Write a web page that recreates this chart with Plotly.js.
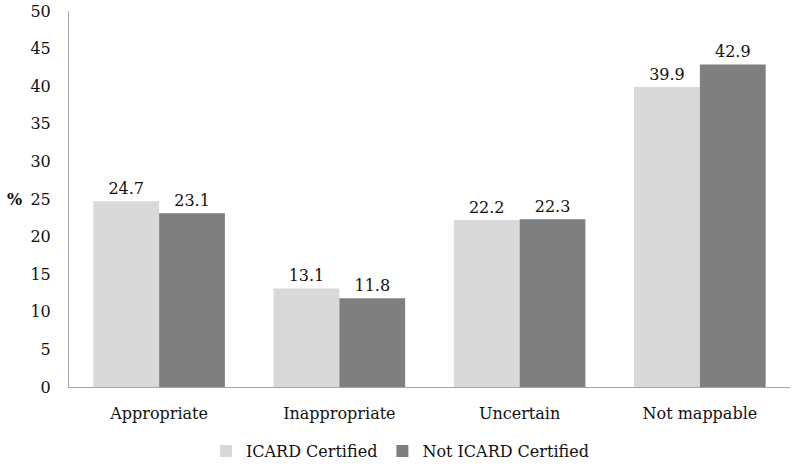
<!DOCTYPE html>
<html>
<head>
<meta charset="utf-8">
<script src="https://cdn.plot.ly/plotly-3.0.1.min.js"></script>
<style>
  html, body { margin: 0; padding: 0; background: #ffffff; }
  #chart { width: 800px; height: 466px; }
</style>
</head>
<body>
<div id="chart"></div>
<script>

/* ==========================================
   DATA
========================================== */

const categories = ["Appropriate", "Inappropriate", "Uncertain", "Not mappable"];

const certified = [24.7, 13.1, 22.2, 39.9];

const notCertified = [23.1, 11.8, 22.3, 42.9];

const seriesNames = ["ICARD Certified", "Not ICARD Certified"];

const yTicks = [0, 5, 10, 15, 20, 25, 30, 35, 40, 45, 50];


/* ==========================================
   DRAW
========================================== */

const fontFamily = "DejaVu Serif, serif";

const textColor = "#111111";

function makeBar(name, values, color){

    return {

        type:"bar",

        name:name,

        x:categories,

        y:values,

        marker:{ color:color },

        text:values.map(v=>v.toFixed(1)),

        textposition:"outside",

        cliponaxis:false,

        textfont:{ family:fontFamily, size:16, color:textColor },

        hoverinfo:"x+y"

    };

}

Plotly.newPlot(

    "chart",

    [

        makeBar(seriesNames[0], certified, "#d9d9d9"),

        makeBar(seriesNames[1], notCertified, "#7f7f7f")

    ],

    {

        width:800,

        height:466,

        margin:{ l:69, r:10, t:11, b:79 },

        paper_bgcolor:"#ffffff",

        plot_bgcolor:"#ffffff",

        font:{ family:fontFamily, size:16, color:textColor },

        barmode:"group",

        bargap:0.27,

        bargroupgap:0,

        showlegend:true,

        legend:{

            orientation:"h",

            xref:"container",

            yref:"container",

            x:0.5,

            xanchor:"center",

            y:0.032,

            yanchor:"middle",

            font:{ family:fontFamily, size:16, color:textColor },

            itemwidth:30

        },

        xaxis:{

            automargin:false,

            showgrid:false,

            showline:true,

            linecolor:"#a6a6a6",

            linewidth:1,

            ticks:"",

            ticklabelstandoff:12,

            tickfont:{ family:fontFamily, size:16, color:textColor }

        },

        yaxis:{

            automargin:false,

            range:[0, 50],

            tickvals:yTicks,

            showgrid:false,

            zeroline:false,

            showline:true,

            linecolor:"#a6a6a6",

            linewidth:1,

            ticks:"",

            ticklabelstandoff:14,

            tickfont:{ family:fontFamily, size:16, color:textColor }

        },

        annotations:[

            {

                text:"<b>%</b>",

                xref:"paper",

                yref:"paper",

                x:-0.075,

                y:0.5,

                xanchor:"center",

                yanchor:"middle",

                showarrow:false,

                font:{ family:fontFamily, size:16, color:textColor }

            }

        ]

    },

    {

        responsive:false,

        displayModeBar:false

    }

);

</script>
</body>
</html>
